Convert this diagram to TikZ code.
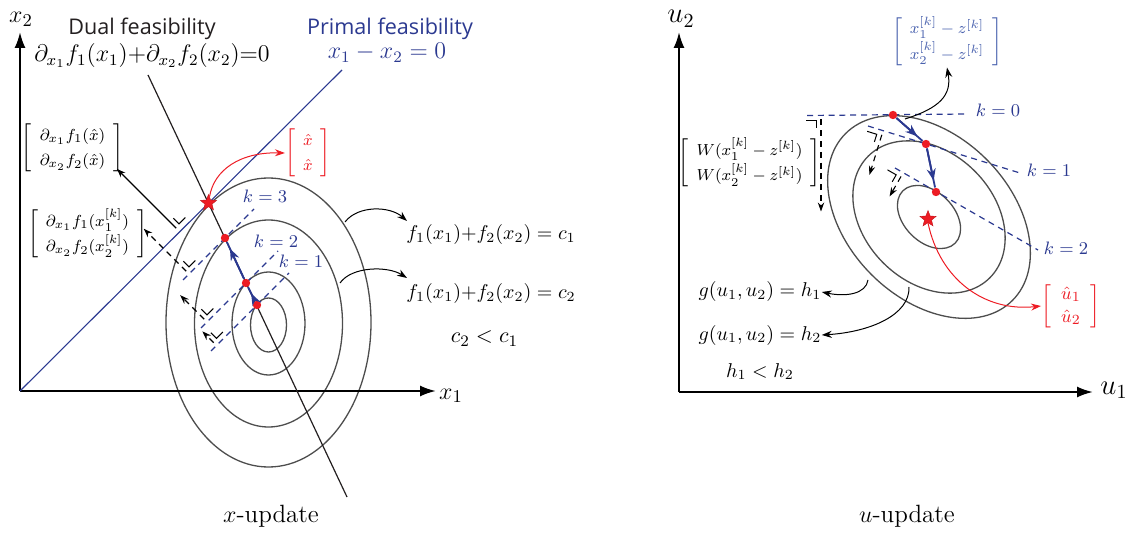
\documentclass[tikz,border=0pt]{standalone}
\usepackage{amsmath}
\usepackage{fontspec}
\newfontfamily\headfont{Open Sans}
\usetikzlibrary{arrows.meta,shapes.geometric}

\definecolor{primalblue}{HTML}{2B3990}
\definecolor{paleblue}{HTML}{4A62AE}
\definecolor{optred}{HTML}{ED1C24}
\definecolor{levelgray}{HTML}{4D4D4D}
\definecolor{inkblack}{HTML}{231F20}

\newcommand{\colvec}[2]{\left[\begin{array}{c} #1 \\ #2 \end{array}\right]}

\tikzset{
  axis/.style={line width=1.1pt, -{Latex[length=8pt,width=5.5pt]}},
  level/.style={levelgray, line width=0.65pt},
  tangent/.style={primalblue, line width=0.6pt, dash pattern=on 3pt off 2.4pt},
  iterate/.style={primalblue, line width=0.9pt, -{Stealth[length=6pt,width=4.5pt]}, shorten >=3.5pt},
  gradline/.style={line width=0.55pt, -{Stealth[length=4.5pt,width=3.2pt]}},
  graddash/.style={gradline, dash pattern=on 3pt off 2.4pt},
  corner/.style={line width=0.5pt},
  callout/.style={line width=0.5pt, -{Stealth[length=5pt,width=3.5pt]}},
  iterdot/.style={circle, fill=optred, inner sep=0pt, minimum size=4.2pt},
  optstar/.style={star, star points=5, star point ratio=2.3, fill=optred, draw=optred!80!black, line width=0.2pt, inner sep=0pt, minimum size=8.5pt},
  headtext/.style={font=\headfont\fontsize{10.8}{12}\selectfont, inner sep=0pt, anchor=base},
  eqlabel/.style={font=\fontsize{10.2}{13}\selectfont, inner sep=0pt, anchor=base},
  vecbox/.style={font=\fontsize{8.2}{9.5}\selectfont\renewcommand{\arraystretch}{1.35}\setlength{\arraycolsep}{4pt}, inner sep=0pt},
  axislabel/.style={font=\fontsize{13}{15}\selectfont, inner sep=0pt, anchor=base},
  titlelabel/.style={font=\fontsize{12.5}{15}\selectfont, inner sep=0pt, anchor=base},
  kval/.style={primalblue, font=\fontsize{9.5}{11}\selectfont, inner sep=0pt, anchor=base},
}

\begin{document}
\begin{tikzpicture}[x=0.5pt, y=-0.5pt]
\useasboundingbox (0,0) rectangle (1135,534);

% ---------- x-update ----------
\foreach \rx/\ry/\cy in {18/27/325, 36.5/51.5/323.5, 74/103.5/323.5, 102.5/144.5/322.5}
  \draw[level] (268.5,\cy) ellipse [x radius=\rx, y radius=\ry];

\coordinate (O1) at (20,391);
\coordinate (x1end) at (436,391);
\coordinate (x2end) at (20,32);
\draw[axis] (O1) -- (x1end);
\draw[axis] (O1) -- (x2end);
\node[axislabel] (x1lab) at (451,399) {$x_1$};
\node[axislabel] (x2lab) at (21,23) {$x_2$};

% feasibility lines
\coordinate (primalend) at (342,70);
\coordinate (dualtop) at (148,75);
\coordinate (dualbot) at (347,497);
\draw[primalblue, line width=0.55pt] (O1) -- (primalend);
\draw[inkblack, line width=0.6pt] (dualtop) -- (dualbot);

% tangent lines
\draw[tangent] (183,280) -- (254,209);
\draw[tangent] (201,328) -- (278,251);
\draw[tangent] (211,351) -- (289,273);

% gradient directions
\foreach \fx/\fy/\len/\sty in {179/231/88/gradline, 189/274/64/graddash, 207/322/38/graddash, 216.5/345.5/20/graddash}
{
  \begin{scope}[shift={(\fx,\fy)}, rotate=-135]
    \draw[corner] (-14,5) -- (-5,5) -- (-5,13);
    \draw[\sty] (0,4) -- (0,\len);
  \end{scope}
}

% iterates
\node[iterdot] (p1) at (225,238) {};
\node[iterdot] (p2) at (246,283) {};
\node[iterdot] (p3) at (257,305) {};
\draw[primalblue, line width=0.9pt] (p3) -- (p2) -- (p1);
\draw[iterate] (p3) -- (p2);
\draw[iterate] (p2) -- (p1);
\node[optstar] (xstar) at (208.5,203) {};

\node[kval] (k3) at (265,203) {$k=3$};
\node[kval] (k2) at (276,248) {$k=2$};
\node[kval] (k1) at (301,268) {$k=1$};

% labels
\node[headtext, inkblack] (dualhead) at (142,35) {Dual feasibility};
\node[eqlabel, font=\fontsize{11.5}{13}\selectfont] (dualeq) at (152,62) {$\partial_{x_1} f_1(x_1){+}\partial_{x_2} f_2(x_2){=}0$};
\node[headtext, primalblue] (primalhead) at (390,35) {Primal feasibility};
\node[eqlabel, primalblue, font=\fontsize{11.5}{13}\selectfont] (primaleq) at (387,59) {$x_1 - x_2 = 0$};

\node[vecbox] (gradhat) at (72.5,148) {$\colvec{\partial_{x_1} f_1(\hat x)}{\partial_{x_2} f_2(\hat x)}$};
\node[vecbox] (gradk) at (87.5,234) {$\colvec{\partial_{x_1} f_1(x_1^{[k]})}{\partial_{x_2} f_2(x_2^{[k]})}$};
\node[vecbox, optred] (xhat) at (308,153) {$\colvec{\hat x}{\hat x}$};

\draw[callout, optred] (xstar) .. controls (214,170) and (240,152) .. (xhat.west);

\node[eqlabel] (fc1) at (491,240) {$f_1(x_1){+}f_2(x_2) = c_1$};
\node[eqlabel] (fc2) at (491,299) {$f_1(x_1){+}f_2(x_2) = c_2$};
\node[eqlabel, font=\fontsize{11}{13}\selectfont] (corder) at (484.5,343) {$c_2 < c_1$};
\coordinate (fc1foot) at (345,222);
\coordinate (fc1tip) at (407,221);
\coordinate (fc2foot) at (340,283);
\coordinate (fc2tip) at (407,278);
\draw[callout] (fc1foot) .. controls (358,205) and (390,206) .. (fc1tip);
\draw[callout] (fc2foot) .. controls (352,266) and (388,266) .. (fc2tip);

\node[titlelabel] (xupd) at (271,522) {$x$-update};

% ---------- u-update ----------
\begin{scope}[shift={(929,217)}, rotate=-45]
  \foreach \a/\b in {118/81.4, 86/64.8, 37/25}
    \draw[level] (0,0) ellipse [x radius=\a, y radius=\b];
\end{scope}

\coordinate (O2) at (679,392);
\coordinate (u1end) at (1093,392);
\coordinate (u2end) at (679,32);
\draw[axis] (O2) -- (u1end);
\draw[axis] (O2) -- (u2end);
\node[axislabel, font=\fontsize{14}{16}\selectfont] (u1lab) at (1114,394) {$u_1$};
\node[axislabel, font=\fontsize{14}{16}\selectfont] (u2lab) at (681,23) {$u_2$};

% tangent lines
\draw[tangent] (807,115.5) -- (968,114);
\draw[tangent] (868,126) -- (1020,173);
\draw[tangent] (895,168) -- (1038,250);
\node[kval] (r0) at (998,117) {$k=0$};
\node[kval] (r1) at (1049,177) {$k=1$};
\node[kval] (r2) at (1066,255) {$k=2$};

% descent directions
\foreach \fx/\fy/\ang/\len in {821/115.5/0/96, 883/131/-17.2/46, 903/173/-29.8/27}
{
  \begin{scope}[shift={(\fx,\fy)}, rotate=\ang]
    \draw[corner] (-15,5) -- (-5,5) -- (-5,13);
    \draw[graddash] (0,4) -- (0,\len);
  \end{scope}
}

% iterates
\node[iterdot] (q0) at (893,115) {};
\node[iterdot] (q1) at (926,144) {};
\node[iterdot] (q2) at (936,192) {};
\draw[primalblue, line width=0.9pt] (q0) -- (q1) -- (q2);
\draw[iterate] (q0) -- (q1);
\draw[iterate] (q1) -- (q2);
\node[optstar] (ustar) at (928,219) {};

% labels
\node[vecbox, paleblue] (xzdiff) at (947,41.5) {$\colvec{x_1^{[k]} - z^{[k]}}{x_2^{[k]} - z^{[k]}}$};
\node[vecbox] (wdiff) at (749.5,163) {$\colvec{W(x_1^{[k]} - z^{[k]})}{W(x_2^{[k]} - z^{[k]})}$};
\node[vecbox, optred, font=\fontsize{9.5}{11.5}\selectfont] (uhat) at (1071,306) {$\colvec{\hat u_1}{\hat u_2}$};

\coordinate (xzfoot) at (905,119);
\draw[callout] (xzfoot) .. controls (940,108) and (952,95) .. (xzdiff.south);
\draw[callout, optred] (ustar.south) .. controls (940,280) and (985,312) .. (uhat.west);

\node[eqlabel] (gh1) at (760,297) {$g(u_1,u_2) = h_1$};
\node[eqlabel] (gh2) at (760,340) {$g(u_1,u_2) = h_2$};
\node[eqlabel] (horder) at (760,377) {$h_1 < h_2$};
\coordinate (h1foot) at (868,280);
\coordinate (h2foot) at (909,287);
\draw[callout] (h1foot) .. controls (866,294) and (846,297) .. (gh1.east);
\draw[callout] (h2foot) .. controls (910,315) and (870,332) .. (gh2.east);

\node[titlelabel] (uupd) at (907,522) {$u$-update};
\end{tikzpicture}
\end{document}
